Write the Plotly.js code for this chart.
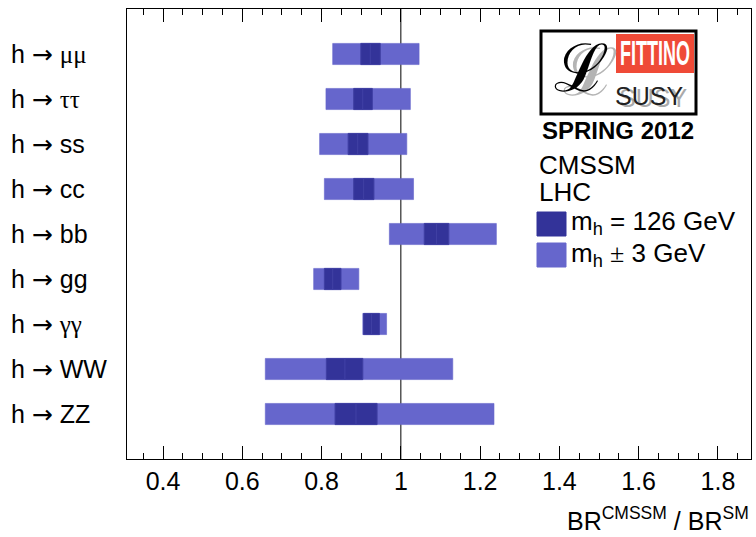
<!DOCTYPE html>
<html>
<head>
<meta charset="utf-8">
<script src="https://cdn.plot.ly/plotly-3.0.1.min.js"></script>
<style>
  html, body { margin: 0; padding: 0; background: #ffffff; }
  #chart { width: 756px; height: 537px; }
</style>
</head>
<body>
<div id="chart"></div>
<script>
// Higgs decay channels, top to bottom
const channels = ['μμ', 'ττ', 'ss', 'cc', 'bb', 'gg', 'γγ', 'WW', 'ZZ'];

// BR(CMSSM)/BR(SM) band for m_h ± 3 GeV
const lightLo = [0.828, 0.811, 0.795, 0.807, 0.971, 0.780, 0.904, 0.658, 0.658];
const lightHi = [1.046, 1.024, 1.015, 1.032, 1.241, 0.894, 0.964, 1.131, 1.235];

// BR(CMSSM)/BR(SM) band for m_h = 126 GeV, split at its central value
const darkLo  = [0.899, 0.881, 0.867, 0.881, 1.059, 0.807, 0.906, 0.812, 0.834];
const darkMid = [0.923, 0.904, 0.891, 0.906, 1.090, 0.828, 0.926, 0.859, 0.887];
const darkHi  = [0.948, 0.928, 0.917, 0.932, 1.121, 0.849, 0.946, 0.904, 0.940];

const xTicks = [0.4, 0.6, 0.8, 1, 1.2, 1.4, 1.6, 1.8];

const LIGHT = '#6666cc';
const DARK = '#333399';
const SANS = 'Liberation Sans, Arial, Helvetica, sans-serif';
const SERIF = 'Liberation Serif, Times New Roman, serif';
const ARROW_FONT = 'DejaVu Sans, sans-serif';

// plot frame in pixels
const L = 127, R = 751, T = 9, B = 459;
const W = 756, H = 537;
const px = v => (v - L) / (R - L);
const py = v => (B - v) / (B - T);

function bandTrace(lo, hi, color, lineColor) {
  return {
    type: 'bar',
    orientation: 'h',
    y: channels,
    base: lo,
    x: hi.map((h, i) => h - lo[i]),
    width: 0.47,
    marker: { color: color, line: { color: lineColor, width: 1 } },
    hoverinfo: 'skip',
    showlegend: false
  };
}

const traces = [
  bandTrace(lightLo, lightHi, LIGHT, 'rgba(102,102,204,0.6)'),
  bandTrace(darkLo, darkMid, DARK, '#3f3fa3'),
  bandTrace(darkMid, darkHi, DARK, '#3f3fa3')
];

function channelLabel(c) {
  const greek = /[α-ω]/.test(c);
  const body = greek ? `<span style="font-family:${SERIF}">${c}</span>` : c;
  return `h <span style="font-family:${ARROW_FONT}">→</span> ${body}`;
}

const annotations = channels.map(c => ({
  xref: 'paper', yref: 'y', x: px(9), y: c,
  xanchor: 'left', yanchor: 'middle',
  text: channelLabel(c), showarrow: false,
  font: { family: SANS, size: 25, color: '#000' }
}));

// axis title
annotations.push({
  xref: 'paper', yref: 'paper', x: 1.0, y: py(519),
  xanchor: 'right', yanchor: 'middle', showarrow: false,
  text: 'BR<sup>CMSSM</sup> / BR<sup>SM</sup>',
  font: { family: SANS, size: 25, color: '#000' }
});

// legend text
const legendText = [
  ['CMSSM', 537, 165],
  ['LHC', 537, 192],
  ['m<sub>h</sub> = 126 GeV', 569, 223],
  ['m<sub>h</sub> <span style="font-family:' + SERIF + '">±</span> 3 GeV', 569, 255]
];
legendText.forEach(([t, x, y]) => annotations.push({
  xref: 'paper', yref: 'paper', x: px(x), y: py(y),
  xanchor: 'left', yanchor: 'middle', showarrow: false, text: t,
  font: { family: SANS, size: 26, color: '#000' }
}));

// logo lettering
annotations.push(
  { xref: 'paper', yref: 'paper', x: px(590), y: py(72), xanchor: 'center', yanchor: 'middle',
    showarrow: false, text: 'ℒ', font: { family: 'DejaVu Serif, serif', size: 66, color: '#b4b4b4' } },
  { xref: 'paper', yref: 'paper', x: px(581), y: py(69), xanchor: 'center', yanchor: 'middle',
    showarrow: false, text: 'ℒ', font: { family: 'DejaVu Serif, serif', size: 66, color: '#000' } },
  { xref: 'paper', yref: 'paper', x: px(655), y: py(54), xanchor: 'center', yanchor: 'middle',
    showarrow: false, text: '<b>FITTINO</b>',
    font: { family: SANS, size: 18, color: '#fff' } },
  { xref: 'paper', yref: 'paper', x: px(653), y: py(98), xanchor: 'center', yanchor: 'middle',
    showarrow: false, text: 'SUSY', font: { family: SANS, size: 25, color: '#aaaaaa' } },
  { xref: 'paper', yref: 'paper', x: px(649), y: py(96), xanchor: 'center', yanchor: 'middle',
    showarrow: false, text: 'SUSY', font: { family: SANS, size: 25, color: '#222' } },
  { xref: 'paper', yref: 'paper', x: px(618), y: py(130), xanchor: 'center', yanchor: 'middle',
    showarrow: false, text: '<b>SPRING 2012</b>', font: { family: SANS, size: 24, color: '#000' } }
);

const shapes = [
  // reference line at BR ratio = 1
  { type: 'line', xref: 'x', yref: 'paper', x0: 1, x1: 1, y0: 0, y1: 1,
    layer: 'below', line: { color: '#000', width: 1 } },
  // logo frame and red panel
  { type: 'rect', xref: 'paper', yref: 'paper', x0: px(541), x1: px(696), y0: py(31), y1: py(114),
    fillcolor: '#fff', line: { color: '#000', width: 3 }, layer: 'below' },
  { type: 'rect', xref: 'paper', yref: 'paper', x0: px(616), x1: px(694), y0: py(34), y1: py(73),
    fillcolor: '#ef4a37', line: { width: 0 }, layer: 'below' },
  // legend swatches
  { type: 'rect', xref: 'paper', yref: 'paper', x0: px(537), x1: px(566), y0: py(212), y1: py(236),
    fillcolor: DARK, line: { color: DARK, width: 1 } },
  { type: 'rect', xref: 'paper', yref: 'paper', x0: px(537), x1: px(566), y0: py(243), y1: py(267),
    fillcolor: LIGHT, line: { color: LIGHT, width: 1 } }
];

const layout = {
  width: W, height: H,
  margin: { l: L, r: W - R, t: T, b: H - B, pad: 0 },
  paper_bgcolor: '#fff',
  plot_bgcolor: 'rgba(0,0,0,0)',
  barmode: 'overlay',
  font: { family: SANS, color: '#000' },
  showlegend: false,
  xaxis: {
    range: [0.309, 1.8835],
    tickmode: 'array',
    tickvals: xTicks,
    ticktext: xTicks.map(String),
    ticks: 'inside', ticklen: 13, tickwidth: 1, tickcolor: '#000',
    minor: { dtick: 0.05, tick0: 0, ticks: 'inside', ticklen: 6, tickwidth: 1, tickcolor: '#000', showgrid: false },
    showline: true, linecolor: '#000', linewidth: 1, mirror: 'ticks',
    showgrid: false, zeroline: false,
    tickfont: { family: SANS, size: 25, color: '#000' }
  },
  yaxis: {
    type: 'category',
    categoryarray: channels,
    range: [9, -1],
    showticklabels: false, ticks: '',
    showline: true, linecolor: '#000', linewidth: 1, mirror: true,
    showgrid: false, zeroline: false
  },
  annotations: annotations,
  shapes: shapes
};

Plotly.newPlot('chart', traces, layout, { displayModeBar: false, staticPlot: true }).then(gd => {
  // the logo's FITTINO lettering is tall and condensed: stretch it vertically
  gd.querySelectorAll('.annotation-text').forEach(t => {
    if (t.textContent === 'FITTINO') {
      const b = t.getBBox();
      const cx = b.x + b.width / 2, cy = b.y + b.height / 2;
      t.setAttribute('transform',
        `translate(${cx},${cy}) scale(1,1.9) translate(${-cx},${-cy})`);
    }
  });
});
</script>
</body>
</html>
